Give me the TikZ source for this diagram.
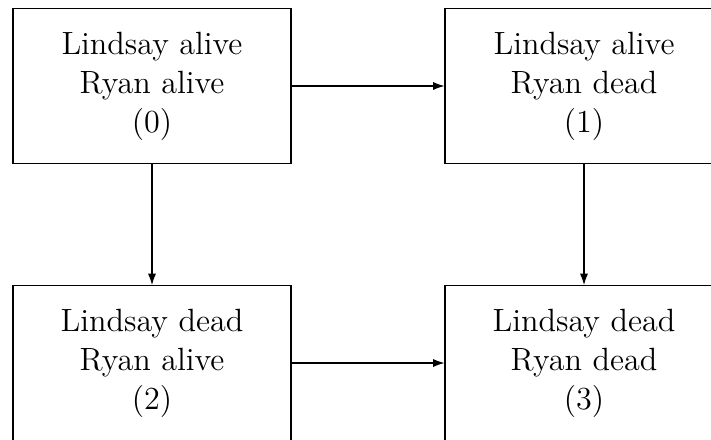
\documentclass[tikz,border=0pt]{standalone}
\usetikzlibrary{arrows.meta}
\begin{document}
\begin{tikzpicture}[x=0.373pt,y=-0.373pt,
  state/.style={draw,line width=0.4pt,minimum width=103.7pt,minimum height=57.8pt,inner sep=0pt,align=center,font=\fontsize{12}{14.5}\selectfont},
  conn/.style={line width=0.4pt,-{Latex[length=4.2pt,width=3pt]}}]
\useasboundingbox (0,0) rectangle (711,439);
\clip (0,0) rectangle (711,439);
\node[state] (s0) at (152,86) {Lindsay alive\\Ryan alive\\(0)};
\node[state] (s1) at (584,86) {Lindsay alive\\Ryan dead\\(1)};
\node[state] (s2) at (152,363) {Lindsay dead\\Ryan alive\\(2)};
\node[state] (s3) at (584,363) {Lindsay dead\\Ryan dead\\(3)};
\draw[conn] (s0) -- (s1);
\draw[conn] (s0) -- (s2);
\draw[conn] (s1) -- (s3);
\draw[conn] (s2) -- (s3);
\end{tikzpicture}
\end{document}
